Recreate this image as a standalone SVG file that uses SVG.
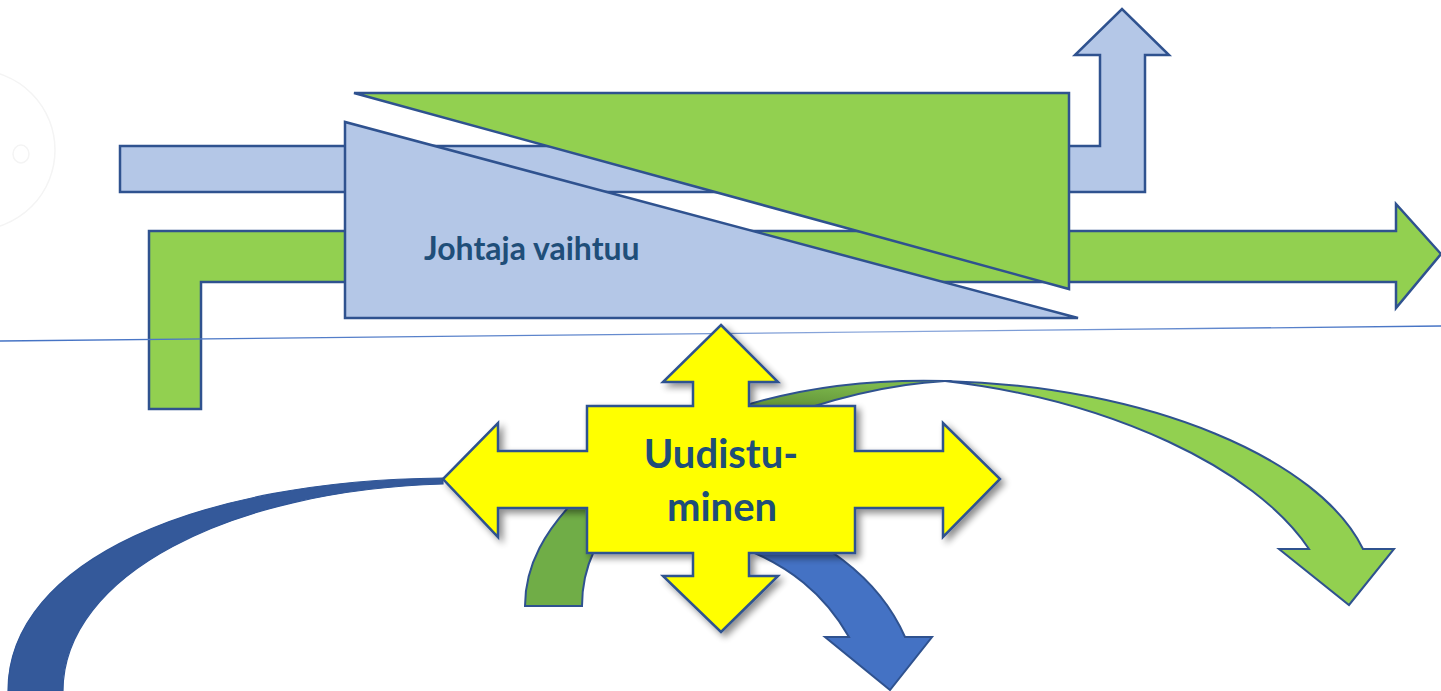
<svg xmlns="http://www.w3.org/2000/svg" width="1441" height="691" viewBox="0 0 1441 691">
  <defs>
    <style>
      .edge { stroke: #2F528F; stroke-width: 2.5; stroke-linejoin: miter; }
      .lightblue { fill: #B4C7E7; }
      .green { fill: #92D050; }
      .yellow { fill: #FFFF00; }
      .label { font-family: Lato, "Liberation Sans", Arial, sans-serif; font-weight: bold; fill: #1F4E79; }
    </style>
    <filter id="shadow" x="-10%" y="-10%" width="125%" height="125%">
      <feGaussianBlur in="SourceAlpha" stdDeviation="3.5"/>
      <feOffset dx="4" dy="4" result="blur"/>
      <feComponentTransfer><feFuncA type="linear" slope="0.45"/></feComponentTransfer>
      <feMerge><feMergeNode/><feMergeNode in="SourceGraphic"/></feMerge>
    </filter>
    <linearGradient id="backGreen" x1="0" y1="1" x2="0.3" y2="0">
      <stop offset="0" stop-color="#4F7D2C"/>
      <stop offset="0.6" stop-color="#6A9E3E"/>
      <stop offset="1" stop-color="#7DB84C"/>
    </linearGradient>
    <linearGradient id="rule" x1="0" y1="0" x2="1" y2="0">
      <stop offset="0" stop-color="#4472C4"/>
      <stop offset="0.4" stop-color="#5F86CC"/>
      <stop offset="0.6" stop-color="#8FAADC"/>
      <stop offset="1" stop-color="#4472C4"/>
    </linearGradient>
  </defs>

  <rect width="1441" height="691" fill="#FFFFFF"/>

  <!-- faint ring at the left margin -->
  <g id="ring" fill="none" stroke="#F4F4F4" stroke-width="1.5">
    <circle cx="-25" cy="150" r="80"/>
    <ellipse cx="21" cy="154" rx="8" ry="9"/>
  </g>

  <!-- blue bar turning upward -->
  <g id="blue-flow">
    <polygon class="lightblue edge" points="120,146 1100,146 1100,55 1075,55 1122,9 1169,55 1145,55 1145,192 120,192"/>
  </g>

  <!-- green bar rising from below and running right -->
  <g id="green-flow">
    <polygon class="green edge" points="149,231 1396,231 1396,204 1441,254 1396,308 1396,282 201,282 201,409 149,409"/>
  </g>

  <!-- wedges -->
  <g id="green-wedge">
    <polygon class="green edge" points="354,93 1069,93 1069,289"/>
  </g>
  <g id="blue-wedge">
    <polygon class="lightblue edge" points="345,122 345,318 1078,318"/>
    <text class="label" x="424" y="260" font-size="32">Johtaja vaihtuu</text>
  </g>

  <!-- thin rule across the page -->
  <line id="rule-line" x1="0" y1="341" x2="1441" y2="326" stroke="url(#rule)" stroke-width="1.3"/>

  <g id="connectors">
    <!-- long dark sweep to the lower left -->
    <path d="M443,478 C200,480 8,560 8,691 L63,691 C63,575 230,490 443,484 Z" fill="#34599A" stroke="#2F5597" stroke-width="1.2"/>
    <!-- arc over to the right: back face -->
    <path d="M740,407 C800,388 870,379 945,381 C890,384 830,398 760,425 Z" fill="url(#backGreen)" stroke="#2F528F" stroke-width="2"/>
    <!-- arc over to the right: front face and head -->
    <path d="M945,381 C1150,386 1320,460 1363,549 L1394,549 L1349,605 L1279,549 L1309,549 C1255,468 1110,400 945,381 Z" fill="#92D050" stroke="#2F528F" stroke-width="2" stroke-linejoin="miter"/>
    <!-- short olive band below the left arm -->
    <path d="M525,606 C525,565 545,530 580,495 L640,495 L640,520 C610,530 598,540 594,551 C586,568 582,585 582,606 Z" fill="#70AD47" stroke="#2F528F" stroke-width="2"/>
    <!-- blue arc down to the right -->
    <path d="M740,515 C820,530 880,580 905,637 L932,637 L890,690 L825,637 L849,637 C825,595 790,565 735,545 Z" fill="#4472C4" stroke="#2F528F" stroke-width="2"/>
  </g>

  <!-- four-way arrow -->
  <g id="renewal" filter="url(#shadow)">
    <path class="yellow edge" d="M721,325 L778,382 L749,382 L749,406 L855,406 L855,451 L943,451 L943,423 L1000,479 L943,537 L943,508 L855,508 L855,553 L749,553 L749,576 L778,576 L721,632 L663,576 L693,576 L693,553 L587,553 L587,508 L498,508 L498,537 L443,479 L498,423 L498,451 L587,451 L587,406 L693,406 L693,382 L663,382 Z"/>
  </g>
  <g id="renewal-label">
    <text class="label" x="721" y="468" font-size="40" text-anchor="middle">Uudistu-</text>
    <text class="label" x="722" y="521" font-size="40" text-anchor="middle">minen</text>
  </g>
</svg>
